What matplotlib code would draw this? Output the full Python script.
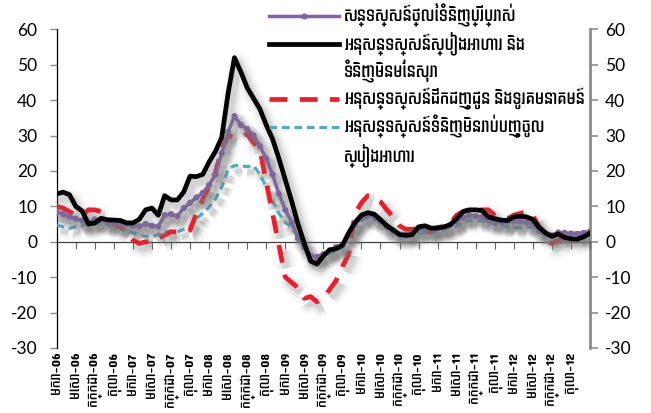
import matplotlib
matplotlib.use("Agg")
import matplotlib.pyplot as plt
import matplotlib.patheffects as pe
from matplotlib import font_manager
from matplotlib.font_manager import FontProperties
from matplotlib.ft2font import FT2Font
from matplotlib.textpath import TextPath
from matplotlib.lines import Line2D
import numpy as np

# ---------------- data ----------------
months = list(range(85))  # Jan-06 ... Jan-13 (monthly)

tick_labels = [
    "មករា-06", "មេសា-06", "កក្កដា-06", "តុលា-06",
    "មករា-07", "មេសា-07", "កក្កដា-07", "តុលា-07",
    "មករា-08", "មេសា-08", "កក្កដា-08", "តុលា-08",
    "មករា-09", "មេសា-09", "កក្កដា-09", "តុលា-09",
    "មករា-10", "មេសា-10", "កក្កដា-10", "តុលា-10",
    "មករា-11", "មេសា-11", "កក្កដា-11", "តុលា-11",
    "មករា-12", "មេសា-12", "កក្កដា-12", "តុលា-12",
]

cpi = [8.5, 7.8, 7.1, 6.5, 6.0, 5.2, 6.3, 6.0, 5.6, 5.4,
       5.2, 5.0, 4.5, 4.4, 5.0, 4.5, 4.3, 7.5, 7.8, 7.2,
       9.5, 11.0, 12.5, 13.8, 16.0, 19.0, 25.0, 31.0, 35.5, 33.0,
       31.8, 30.0, 27.0, 23.5, 19.0, 13.5, 9.0, 5.5, 1.0, -1.5,
       -4.0, -4.3, -3.5, -2.5, -1.5, -1.0, 2.0, 5.0, 6.5, 7.5,
       7.0, 5.8, 4.2, 3.0, 2.0, 2.0, 2.5, 3.5, 3.5, 3.6,
       3.8, 4.0, 4.8, 5.8, 6.8, 7.5, 7.2, 7.0, 6.0, 5.5,
       5.5, 5.6, 5.8, 5.7, 5.5, 5.0, 3.0, 2.0, 1.8, 2.6,
       2.5, 2.3, 2.2, 2.5, 2.9]

food = [13.5, 14.0, 13.3, 10.0, 8.7, 5.0, 5.3, 6.6, 6.2, 6.1,
        6.0, 5.3, 5.3, 6.3, 9.0, 9.5, 7.5, 13.0, 11.8, 11.8,
        14.0, 18.5, 18.4, 19.0, 22.5, 25.5, 29.5, 42.0, 52.0, 48.0,
        43.5, 40.5, 37.5, 33.0, 29.0, 23.5, 17.5, 11.5, 5.0, -0.5,
        -5.5, -6.3, -4.0, -2.3, -2.0, -1.0, 2.5, 5.5, 7.5, 8.2,
        7.8, 6.2, 4.5, 3.3, 2.0, 1.8, 2.0, 4.2, 4.5, 3.8,
        3.9, 4.2, 4.8, 6.5, 8.5, 9.0, 9.0, 8.8, 7.0, 6.5,
        6.1, 6.0, 7.0, 7.2, 7.0, 6.3, 4.0, 2.5, 1.5, 2.2,
        1.2, 0.8, 0.7, 1.4, 2.4]

transport = [10.0, 9.5, 8.5, 7.5, 7.5, 9.0, 9.0, 8.5, 6.5, 5.0,
             4.2, 3.0, 0.5, -0.5, 0.0, 0.0, 1.0, 1.8, 2.8, 2.8,
             2.8, 3.3, 8.0, 12.0, 15.5, 19.5, 26.0, 30.0, 29.5, 29.5,
             30.5, 28.0, 26.0, 17.0, 8.0, -1.0, -10.0, -11.5, -13.0, -16.0,
             -15.5, -17.0, -16.0, -13.5, -11.0, -7.0, -3.5, 8.0, 11.0, 13.0,
             12.5, 11.3, 9.0, 7.0, 4.5, 3.5, 3.5, 3.8, 2.5, 3.0,
             3.8, 4.5, 5.2, 7.5, 8.5, 9.0, 8.8, 9.0, 9.0, 7.5,
             6.5, 6.5, 7.5, 8.0, 8.5, 7.5, 4.0, 0.5, -0.5, 0.5,
             1.0, 1.0, 1.2, 1.8, 2.6]

nonfood = [4.7, 4.2, 3.8, 4.2, 4.6, 5.0, 5.0, 5.2, 4.8, 4.3,
           3.8, 3.3, 2.5, 1.9, 1.5, 1.4, 2.0, 2.8, 2.9, 2.8,
           3.5, 4.2, 6.5, 8.0, 9.8, 12.0, 15.5, 20.5, 21.5, 21.5,
           21.2, 21.5, 19.0, 15.5, 11.5, 8.0, 5.5, 4.0, 1.5, -2.0,
           -4.2, -4.7, -4.0, -3.3, -2.8, -1.5, 1.5, 4.5, 6.2, 6.6,
           6.2, 5.5, 4.0, 2.8, 1.8, 1.4, 1.8, 2.4, 2.4, 2.4,
           3.0, 3.5, 3.8, 4.5, 5.6, 6.0, 6.0, 5.8, 5.5, 5.0,
           4.7, 4.2, 3.8, 4.0, 4.2, 4.0, 3.0, 1.4, 1.6, 1.9,
           2.2, 2.4, 2.5, 2.7, 2.9]

series_labels = [
    "សន្ទស្សន៍ថ្លៃទំនិញប្រើប្រាស់",
    "អនុសន្ទស្សន៍ស្បៀងអាហារ និង\nទំនិញមិនមែនសុរា",
    "អនុសន្ទស្សន៍ដឹកជញ្ជូន និងទូរគមនាគមន៍",
    "អនុសន្ទស្សន៍ទំនិញមិនរាប់បញ្ចូល\nស្បៀងអាហារ",
]

y_ticks = [-30, -20, -10, 0, 10, 20, 30, 40, 50, 60]

# ---------------- fonts ----------------
def khmer_fonts():
    names = []
    for f in font_manager.fontManager.ttflist:
        try:
            if 0x1780 in FT2Font(f.fname).get_charmap() and f.name not in names:
                names.append(f.name)
        except Exception:
            continue
    return names

def text_width_px(family, size, s):
    w = 0.0
    for line in s.split("\n"):
        tp = TextPath((0, 0), line, prop=FontProperties(family=family, size=size))
        w = max(w, tp.get_extents().width)
    return w * 100.0 / 72.0

cands = khmer_fonts()
legend_lines = "\n".join(series_labels)
if cands:
    kh = min(cands, key=lambda n: text_width_px([n, "DejaVu Sans"], 10, legend_lines))
    kh_family = [kh, "DejaVu Sans"]
else:
    kh_family = ["DejaVu Sans"]
num_family = ["Lato", "DejaVu Sans"]

leg_size = min(11.5, 10 * 240.0 / text_width_px(kh_family, 10, legend_lines))
tick_size = min(9.5, 10 * 56.0 / max(text_width_px(kh_family, 10, t) for t in tick_labels))

# ---------------- figure ----------------
fig = plt.figure(figsize=(6.51, 4.13), dpi=100)
ax = fig.add_axes([0.0871, 0.1576, 0.8192, 0.7714])

def shadow(lw):
    effs = []
    for k, a in [(4.2, 0.06), (3.0, 0.08), (2.0, 0.11), (1.3, 0.12)]:
        effs.append(pe.SimpleLineShadow(offset=(3, -4), shadow_color="#7a7a7a",
                                        alpha=a, linewidth=lw * k))
    effs.append(pe.Normal())
    return effs

l_nf, = ax.plot(months, nonfood, color="#4BACC6", lw=2.3, dashes=(2.4, 1.5),
                path_effects=shadow(2.3), zorder=3)
l_tr, = ax.plot(months, transport, color="#EE1D2B", lw=3.4, dashes=(3.8, 2.6),
                path_effects=shadow(3.4), zorder=3)
l_cpi, = ax.plot(months, cpi, color="#8064A2", lw=2.5, marker="o", markersize=3.4,
                 path_effects=shadow(2.5), zorder=4)
l_fd, = ax.plot(months, food, color="black", lw=3.4,
                path_effects=shadow(3.4), zorder=5)

ax.set_xlim(0, 84)
ax.set_ylim(-30, 60)
ax.set_yticks(y_ticks)
ax.set_yticklabels([str(v) for v in y_ticks], family=num_family, fontsize=12.5)

ax.spines["top"].set_visible(False)
ax.spines["right"].set_visible(False)
ax.spines["left"].set_color("black")
ax.spines["left"].set_linewidth(0.9)
ax.spines["bottom"].set_position(("data", 0))
ax.spines["bottom"].set_color("#404040")
ax.spines["bottom"].set_linewidth(0.9)
ax.tick_params(axis="y", direction="out", length=5, color="#8c8c8c", width=1.0, pad=9)

xt = np.arange(0, 85, 3)
ax.set_xticks(xt)
ax.tick_params(axis="x", direction="out", length=5, color="#606060", labelbottom=False)

sec = ax.secondary_xaxis(0.0)
sec.set_xticks(xt[:-1])
sec.set_xticklabels(tick_labels, rotation=90, family=kh_family, fontsize=tick_size)
sec.tick_params(length=0, pad=3)
sec.spines["bottom"].set_visible(False)

secy = ax.secondary_yaxis("right")
secy.set_yticks(y_ticks)
secy.set_yticklabels([str(v) for v in y_ticks], family=num_family, fontsize=12.5)
secy.spines["right"].set_color("#8c8c8c")
secy.spines["right"].set_linewidth(2.0)
secy.tick_params(direction="out", length=6, color="#8c8c8c", width=1.2, pad=5)

# legend: one row per text line so that every line keeps the reference's pitch
def leg_handle(line):
    h = Line2D([], [], color=line.get_color(), lw=line.get_linewidth(),
               marker=line.get_marker(), markersize=line.get_markersize())
    pat = line._dash_pattern[1]
    if pat:
        h.set_dashes([d / line.get_linewidth() for d in pat])
    return h

blank = Line2D([], [], color="none")
rows_h, rows_t = [], []
for line, lab in zip([l_cpi, l_fd, l_tr, l_nf], series_labels):
    parts = lab.split("\n")
    rows_h.append(leg_handle(line)); rows_t.append(parts[0])
    for p in parts[1:]:
        rows_h.append(blank); rows_t.append(p)

size_px = leg_size * 100.0 / 72.0
leg = fig.legend(rows_h, rows_t,
                 loc="upper left", bbox_to_anchor=(0.409, 0.998),
                 prop={"family": kh_family, "size": leg_size},
                 frameon=False, handlelength=70.0 / size_px,
                 handletextpad=5.0 / size_px,
                 labelspacing=4.8 / size_px,
                 borderpad=0.15, borderaxespad=0.0)

fig.savefig("out.png", dpi=100)
